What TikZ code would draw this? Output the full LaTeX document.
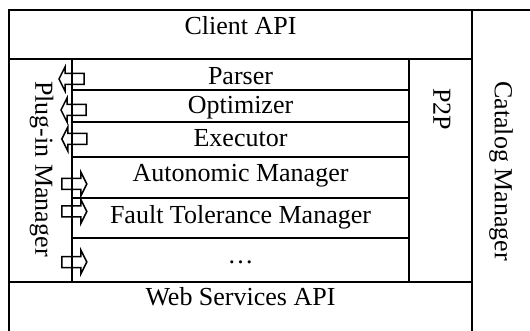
\documentclass[tikz,border=0pt]{standalone}
\usepackage{fontspec}
\setmainfont{Liberation Serif}
\begin{document}
\begin{tikzpicture}[x=1pt,y=-1pt,
  frame/.style={line width=2pt, line cap=rect},
  lbl/.style={font=\fontsize{26}{30}\selectfont, inner sep=0pt, anchor=base},
  vlbl/.style={font=\fontsize{26}{30}\selectfont, inner sep=0pt, rotate=-90},
  blockarrow/.pic={\draw[line width=1.5pt, line join=miter]
    (-12.5,-5.5) -- (6.5,-5.5) -- (6.5,-12) -- (12.5,0) -- (6.5,12) -- (6.5,5.5) -- (-12.5,5.5) -- cycle;}]
\useasboundingbox (0,0) rectangle (530,331);
\clip (0,0) rectangle (530,331);
% frame
\draw[frame] (9,10) -- (545,10);
\draw[frame] (9,10) -- (9,345);
\draw[frame] (472,10) -- (472,345);
\draw[frame] (9,59) -- (472,59);
\draw[frame] (9,282) -- (472,282);
\draw[frame] (72,59) -- (72,282);
\draw[frame] (409,59) -- (409,282);
\foreach \yy in {90,122,157,198,238} {\draw[frame] (72,\yy) -- (409,\yy);}
% texts
\node[lbl] (client) at (240.5,35) {Client API};
\node[lbl] (parser) at (240.5,85) {Parser};
\node[lbl] (opt) at (240.5,114) {Optimizer};
\node[lbl] (exec) at (240.5,147) {Executor};
\node[lbl] (auto) at (240.5,182) {Autonomic Manager};
\node[lbl] (fault) at (240.5,223) {Fault Tolerance Manager};
\node[lbl] (dots) at (240.5,263) {…};
\node[lbl] (ws) at (240.5,305) {Web Services API};
\node[vlbl] (plugin) at (41.5,169) {Plug-in Manager};
\node[vlbl] (p2p) at (442,109) {P2P};
\node[vlbl] (catalog) at (501,171) {Catalog Manager};
% arrows
\pic[rotate=180] at (71.5,79) {blockarrow};
\pic[rotate=180] at (73.5,110) {blockarrow};
\pic[rotate=180] at (74.3,139) {blockarrow};
\pic at (74.3,184) {blockarrow};
\pic at (74.3,211.5) {blockarrow};
\pic at (74.3,262) {blockarrow};
\end{tikzpicture}
\end{document}
